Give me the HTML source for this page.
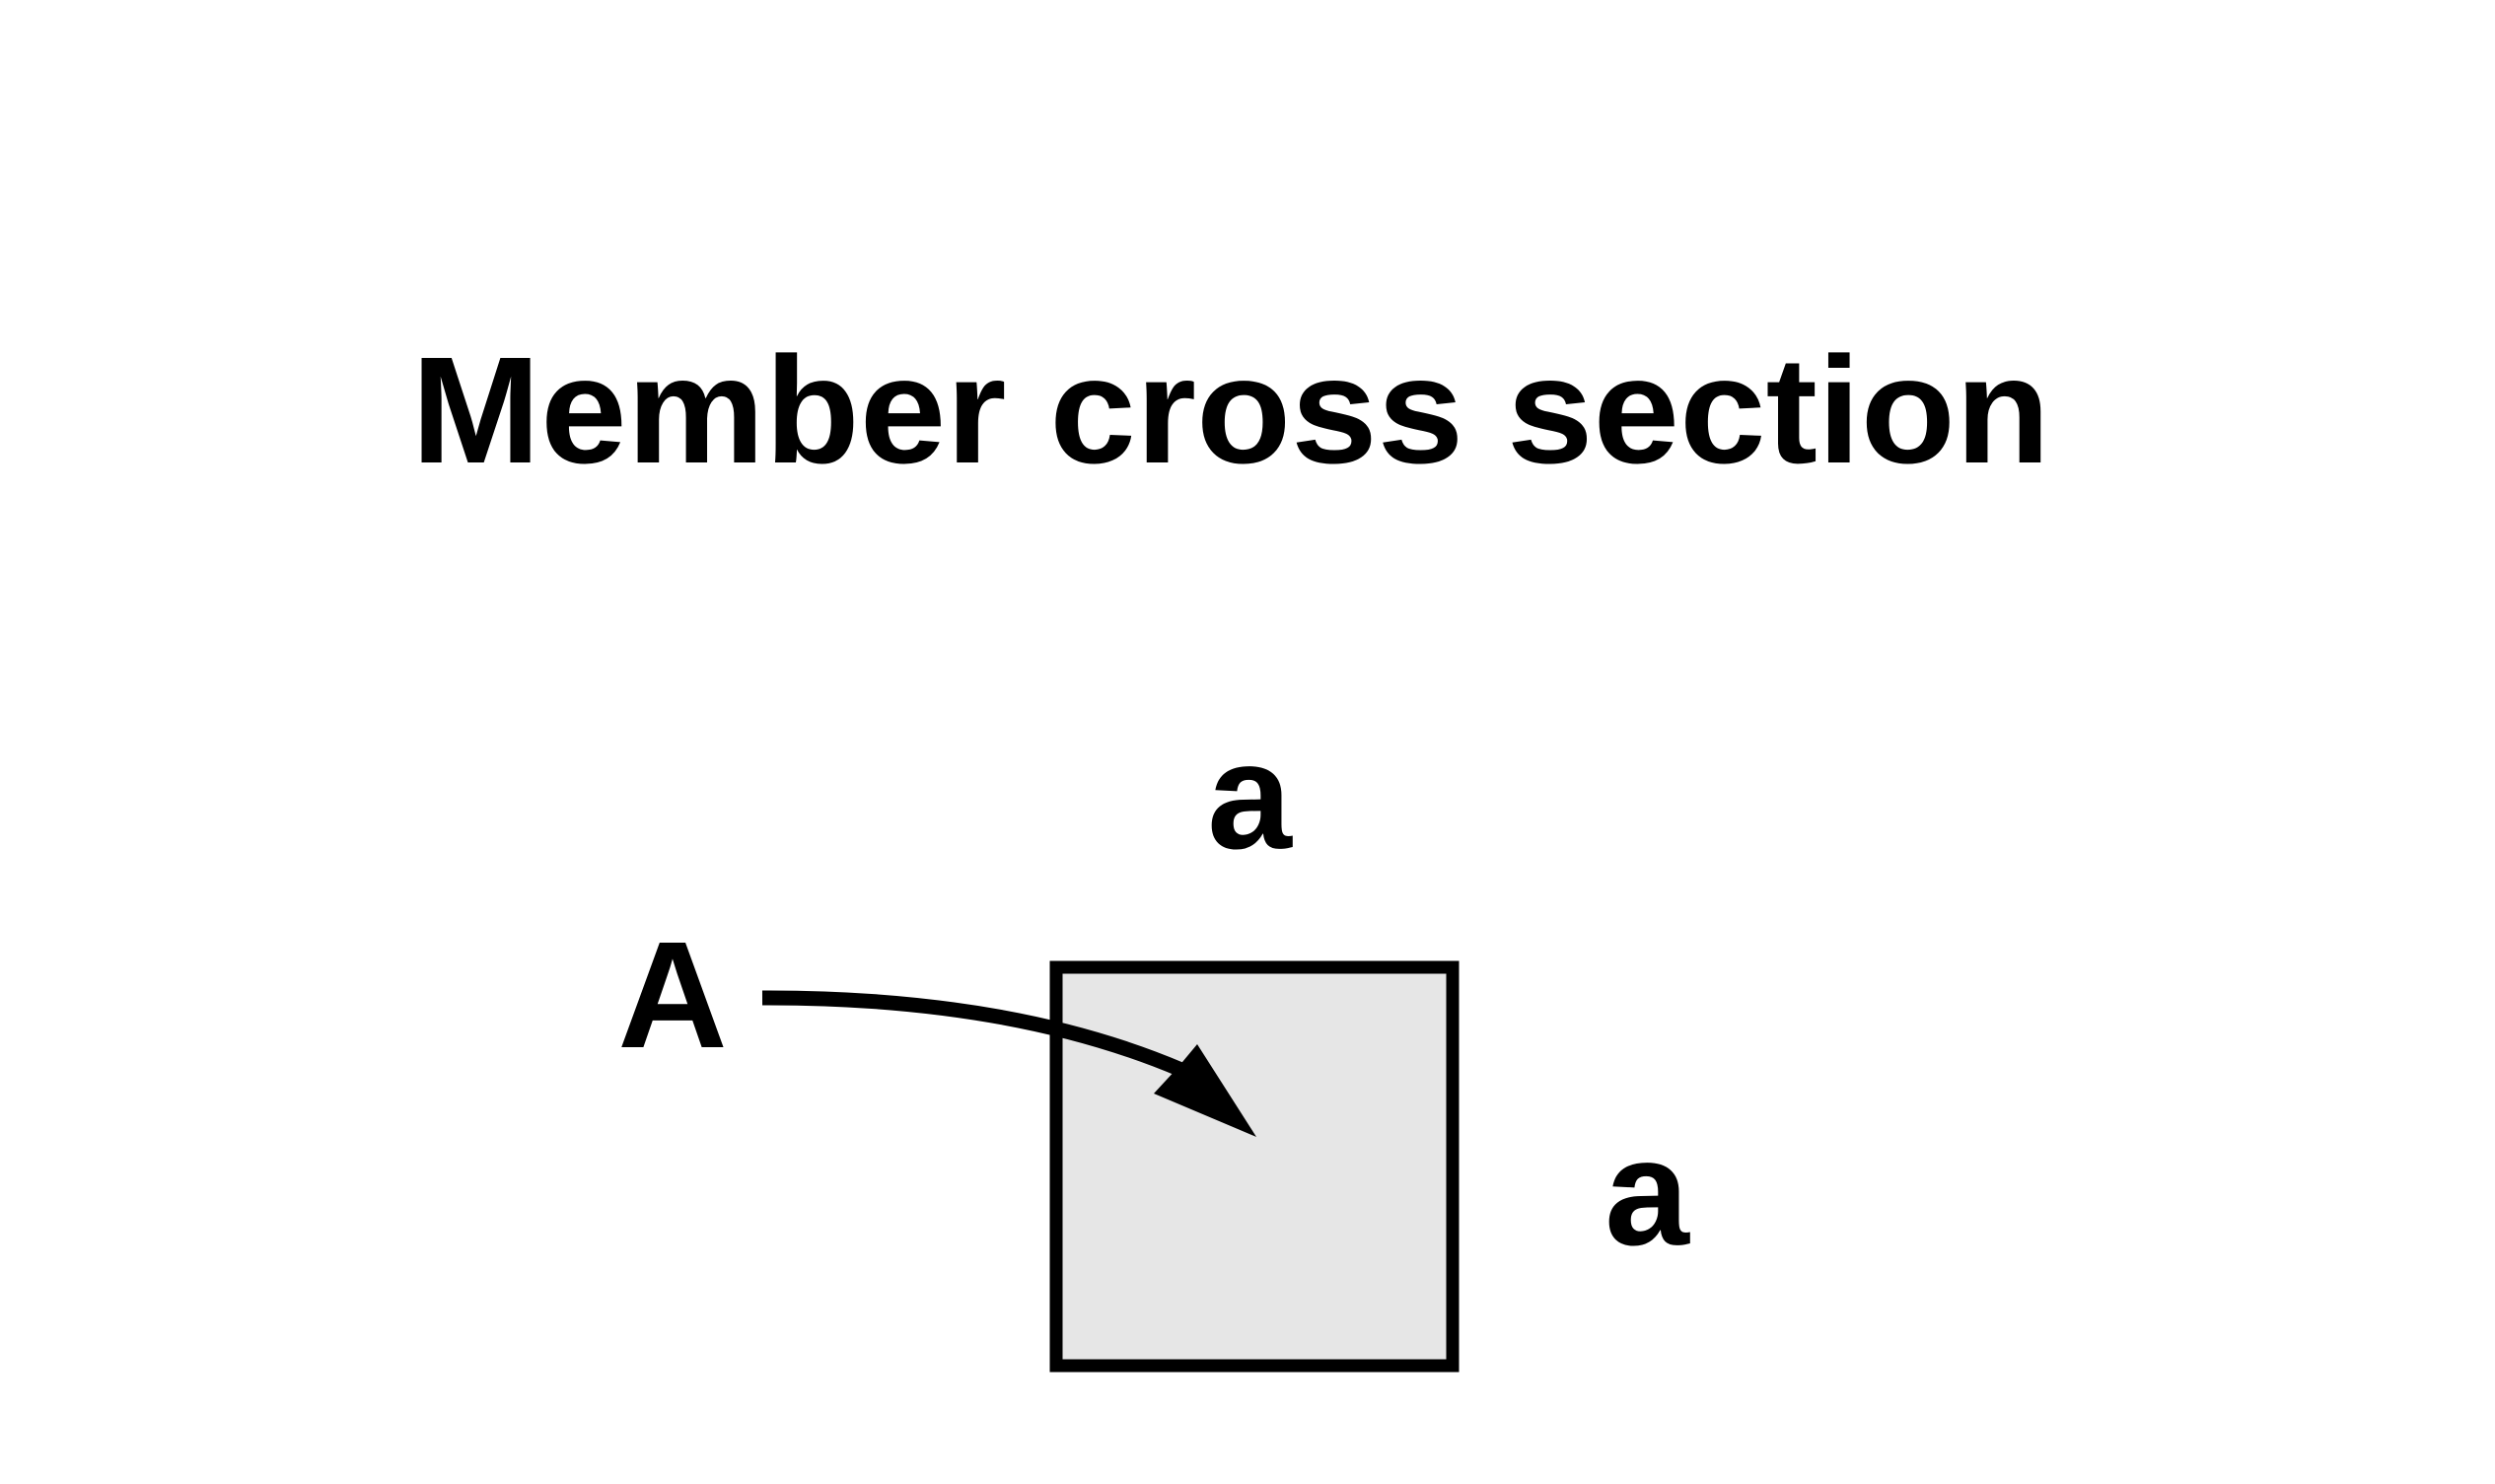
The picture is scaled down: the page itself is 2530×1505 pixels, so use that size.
<!DOCTYPE html>
<html><head><meta charset="utf-8"><style>
html,body{margin:0;padding:0;background:#fff;width:2530px;height:1505px;overflow:hidden}
svg{display:block}
text{font-family:"Liberation Sans",sans-serif;font-weight:bold;fill:#000}
</style></head><body>
<svg width="2530" height="1505" viewBox="0 0 2530 1505">
<rect x="0" y="0" width="2530" height="1505" fill="#fff"/>
<text x="1248" y="469" font-size="154" text-anchor="middle" textLength="1662" lengthAdjust="spacingAndGlyphs">Member cross section</text>
<rect x="1071" y="981" width="402" height="404" fill="#e6e6e6" stroke="#000" stroke-width="13"/>
<text x="1267" y="860" font-size="154" text-anchor="middle">a</text>
<text x="1670" y="1262" font-size="154" text-anchor="middle">a</text>
<text x="682" y="1062" font-size="154" text-anchor="middle">A</text>
<path d="M773,1012 Q1024,1011 1198,1085" fill="none" stroke="#000" stroke-width="15"/>
<polygon points="1274,1153 1214,1059 1194,1083 1170,1109" fill="#000"/>
</svg>
</body></html>
